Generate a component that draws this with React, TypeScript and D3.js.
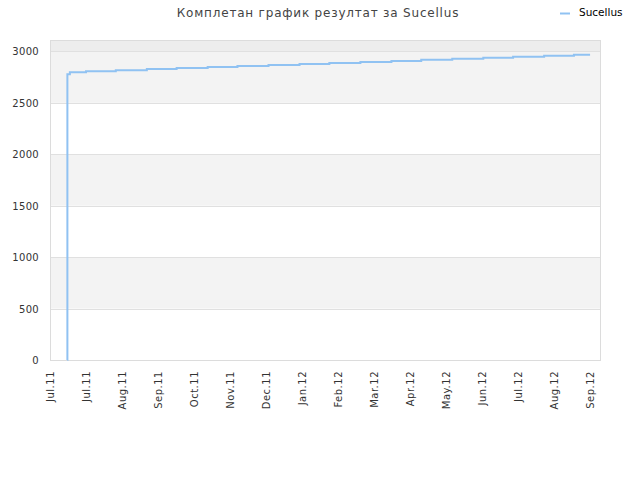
import { useRef, useEffect } from 'react';
import * as d3 from 'd3';

// days since 1 Jul 2011 where the score changes, and the score from that day on
const stepDays = [14, 14.01, 16, 29, 53, 78, 102, 127, 151, 176, 201, 225, 250, 275, 299, 324, 349, 373, 398, 422, 435];
const stepValues = [0, 2778, 2797, 2807, 2817, 2827, 2837, 2847, 2857, 2867, 2877, 2887, 2897, 2907, 2917, 2927, 2937, 2947, 2957, 2967, 2967];

// x ticks every 29 days
const tickDays = [0, 29, 58, 87, 116, 145, 174, 203, 232, 261, 290, 319, 348, 377, 406, 435];
const tickLabels = ['Jul.11', 'Jul.11', 'Aug.11', 'Sep.11', 'Oct.11', 'Nov.11', 'Dec.11', 'Jan.12', 'Feb.12', 'Mar.12', 'Apr.12', 'May.12', 'Jun.12', 'Jul.12', 'Aug.12', 'Sep.12'];
const yTicks = [0, 500, 1000, 1500, 2000, 2500, 3000];

const TITLE = 'Комплетан график резултат за Sucellus';
const SERIES = 'Sucellus';
const LINE = '#90c2f2';
const FONT = '"DejaVu Sans", Verdana, sans-serif';

export default function App() {
  const svgRef = useRef<SVGSVGElement>(null);

  useEffect(() => {
    if (!svgRef.current) return;
    const W = 640, H = 480;
    const left = 50, right = 600, top = 40, bottom = 360;

    const svg = d3.select(svgRef.current);
    svg.selectAll('*').remove();

    const x = d3.scaleLinear().domain([0, 443]).range([left, right]);
    const y = d3.scaleLinear().domain([0, 3110]).range([bottom, top]);

    // background bands
    const bands = d3.range(0, 3000, 500);
    svg.append('g').selectAll('rect')
      .data(bands)
      .join('rect')
      .attr('x', left)
      .attr('width', right - left)
      .attr('y', d => y(d + 500))
      .attr('height', d => y(d) - y(d + 500))
      .attr('fill', (_, i) => i % 2 === 1 ? '#f3f3f3' : '#ffffff');
    svg.append('rect')
      .attr('x', left).attr('width', right - left)
      .attr('y', top).attr('height', y(3000) - top)
      .attr('fill', '#ededed');

    // grid lines
    svg.append('g').selectAll('line')
      .data(yTicks.filter(d => d > 0))
      .join('line')
      .attr('x1', left).attr('x2', right)
      .attr('y1', d => Math.round(y(d)) + 0.5).attr('y2', d => Math.round(y(d)) + 0.5)
      .attr('stroke', '#e0e0e0');

    // frame
    svg.append('rect')
      .attr('x', left + 0.5).attr('y', top + 0.5)
      .attr('width', right - left).attr('height', bottom - top)
      .attr('fill', 'none').attr('stroke', '#dcdcdc');

    // y labels
    svg.append('g').selectAll('text')
      .data(yTicks)
      .join('text')
      .attr('x', 39)
      .attr('y', d => y(d) + 4)
      .attr('text-anchor', 'end')
      .attr('font-family', FONT)
      .attr('font-size', 10)
      .attr('letter-spacing', 0.3)
      .attr('fill', '#333')
      .text(d => String(d));

    // x labels, rotated
    svg.append('g').selectAll('text')
      .data(tickDays)
      .join('text')
      .attr('transform', d => `translate(${x(d) + 4},${371}) rotate(-90)`)
      .attr('text-anchor', 'end')
      .attr('font-family', FONT)
      .attr('font-size', 10)
      .attr('letter-spacing', 0.5)
      .attr('fill', '#333')
      .text((_, i) => tickLabels[i]);

    // series
    const pts = stepDays.map((d, i) => [d, stepValues[i]] as [number, number]);
    const line = d3.line<[number, number]>()
      .x(d => x(d[0]))
      .y(d => y(d[1]))
      .curve(d3.curveStepAfter);
    svg.append('path')
      .attr('d', line(pts))
      .attr('fill', 'none')
      .attr('stroke', LINE)
      .attr('stroke-width', 2);

    // title
    svg.append('text')
      .attr('x', 318).attr('y', 17)
      .attr('text-anchor', 'middle')
      .attr('font-family', FONT)
      .attr('font-size', 12)
      .attr('letter-spacing', 0.8)
      .attr('fill', '#444')
      .text(TITLE);

    // legend
    svg.append('line')
      .attr('x1', 560).attr('x2', 570).attr('y1', 13.5).attr('y2', 13.5)
      .attr('stroke', LINE).attr('stroke-width', 2);
    svg.append('text')
      .attr('x', 579).attr('y', 16)
      .attr('font-family', FONT)
      .attr('font-size', 10.5)
      .attr('fill', '#000')
      .text(SERIES);

    svg.attr('width', W).attr('height', H);
  }, []);

  return <svg ref={svgRef} width={640} height={480} style={{ position: 'absolute', left: 0, top: 0, background: '#fff' }} />;
}
